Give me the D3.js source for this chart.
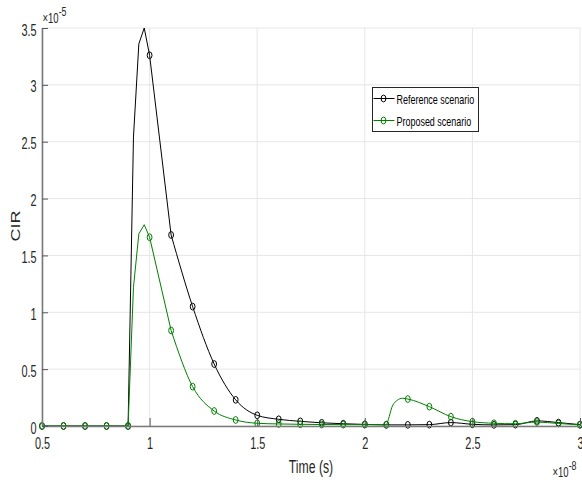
<!DOCTYPE html>
<html>
<head>
<meta charset="utf-8">
<script src="https://cdn.jsdelivr.net/npm/d3@7"></script>
<style>
  body { margin: 0; background: #fff; }
  svg { display: block; }
</style>
</head>
<body>
<svg></svg>
<script>
// values: time in 1e-8 s, CIR in 1e-5
const xTicks = [0.5, 1, 1.5, 2, 2.5, 3];
const yTicks = [0, 0.5, 1, 1.5, 2, 2.5, 3, 3.5];
const seriesNames = ["Reference scenario", "Proposed scenario"];
const seriesColors = ["#000000", "#008000"];

const timeRef = [0.5, 0.6, 0.7, 0.8, 0.9, 0.925, 0.95, 0.975, 1.0, 1.1, 1.2, 1.3, 1.4, 1.5, 1.6, 1.7, 1.8, 1.9,
  2.0, 2.1, 2.2, 2.3, 2.4, 2.5, 2.6, 2.7, 2.8, 2.9, 3.0];
const cirRef = [0, 0, 0, 0, 0, 2.54, 3.36, 3.5, 3.26, 1.68, 1.05, 0.545, 0.23, 0.094, 0.059, 0.041, 0.028, 0.02,
  0.014, 0.01, 0.01, 0.012, 0.03, 0.015, 0.01, 0.012, 0.045, 0.03, 0.012];

const timeProp = [0.5, 0.6, 0.7, 0.8, 0.9, 0.925, 0.95, 0.975, 1.0, 1.1, 1.2, 1.3, 1.4, 1.5, 1.6, 1.7, 1.8, 1.9,
  2.0, 2.1, 2.11, 2.125, 2.15, 2.175, 2.2, 2.3, 2.4, 2.5, 2.6, 2.7, 2.8, 2.9, 3.0];
const cirProp = [0, 0, 0, 0, 0, 1.22, 1.69, 1.77, 1.66, 0.84, 0.346, 0.132, 0.053, 0.024, 0.018, 0.015, 0.013, 0.012,
  0.012, 0.012, 0.06, 0.16, 0.225, 0.244, 0.237, 0.17, 0.082, 0.038, 0.024, 0.02, 0.035, 0.022, 0.01];

const width = 582, height = 483;
const sq = 0.68; // figure looks squeezed sideways
const font = "'Liberation Sans', Arial, sans-serif";

const svg = d3.select("svg").attr("width", width).attr("height", height);

const x = d3.scaleLinear().domain([0.5, 3]).range([42, 580]);
const y = d3.scaleLinear().domain([0, 3.5]).range([426, 28]);

// grid
const grid = svg.append("g").attr("stroke", "#e6e6e6").attr("stroke-width", 1);
grid.selectAll("line.v").data(xTicks).enter().append("line")
  .attr("x1", d => x(d)).attr("x2", d => x(d)).attr("y1", y(0)).attr("y2", y(3.5));
grid.selectAll("line.h").data(yTicks).enter().append("line")
  .attr("y1", d => y(d)).attr("y2", d => y(d)).attr("x1", x(0.5)).attr("x2", x(3));

// series
const series = [
  { name: seriesNames[0], color: seriesColors[0], pts: timeRef.map((t, i) => [t, cirRef[i]]) },
  { name: seriesNames[1], color: seriesColors[1], pts: timeProp.map((t, i) => [t, cirProp[i]]) }
];

// the rise/peak is drawn with straight segments, the decay is smooth
const lineSharp = d3.line().x(d => x(d[0])).y(d => y(d[1]));
const lineSmooth = d3.line().x(d => x(d[0])).y(d => y(d[1])).curve(d3.curveMonotoneX);
const onMarker = t => Math.abs(t * 10 - Math.round(t * 10)) < 1e-6;

series.forEach(s => {
  svg.append("path").datum(s.pts.filter(d => d[0] <= 1.1 + 1e-9))
    .attr("d", lineSharp).attr("fill", "none")
    .attr("stroke", s.color).attr("stroke-width", 1);
  svg.append("path").datum(s.pts.filter(d => d[0] >= 1.1 - 1e-9))
    .attr("d", lineSmooth).attr("fill", "none")
    .attr("stroke", s.color).attr("stroke-width", 1);
  svg.append("g").selectAll("ellipse").data(s.pts.filter(d => onMarker(d[0]))).enter()
    .append("ellipse")
    .attr("cx", d => x(d[0])).attr("cy", d => y(d[1]))
    .attr("rx", 2.4).attr("ry", 3.4)
    .attr("fill", "none").attr("stroke", s.color).attr("stroke-width", 1);
});

// axes
const xAxis = svg.append("g").attr("transform", `translate(0,${y(0)})`)
  .call(d3.axisBottom(x).tickValues(xTicks).tickSize(-8).tickSizeOuter(0).tickFormat(d3.format("")));
const yAxis = svg.append("g").attr("transform", `translate(${x(0.5)},0)`)
  .call(d3.axisLeft(y).tickValues(yTicks).tickSize(-6).tickSizeOuter(0).tickFormat(d3.format("")));

[xAxis, yAxis].forEach(a => {
  a.select(".domain").attr("stroke", "#7a7a7a").attr("stroke-width", 1.6);
  a.selectAll(".tick line").attr("stroke", "#555");
  a.selectAll(".tick text").attr("fill", "#262626")
    .style("font-family", font).style("font-size", "16px")
    .attr("transform", `scale(${sq},1)`);
});
xAxis.selectAll(".tick text").attr("y", 23).attr("dy", null);
yAxis.selectAll(".tick text").attr("x", -5.5 / sq).attr("dy", 7);

// axis labels
svg.append("text")
  .attr("transform", `translate(311,473) scale(${sq},1)`)
  .attr("text-anchor", "middle").attr("fill", "#262626")
  .style("font-family", font).style("font-size", "18px")
  .text("Time (s)");

svg.append("text")
  .attr("transform", `translate(20,226) scale(${sq},1) rotate(-90)`)
  .attr("text-anchor", "middle").attr("fill", "#262626")
  .style("font-family", font).style("font-size", "18px")
  .text("CIR");

// exponent labels
function expLabel(px, py, exp) {
  const t = svg.append("text")
    .attr("transform", `translate(${px},${py}) scale(${sq},1)`)
    .attr("fill", "#262626").style("font-family", font).style("font-size", "14px");
  t.append("tspan").text("\u00d710");
  t.append("tspan").attr("dy", -7).style("font-size", "13px").text(exp);
}
expLabel(42.5, 22.5, "-5");
expLabel(552.5, 476.5, "-8");

// legend
const lg = svg.append("g").attr("transform", "translate(372.5,87.5)");
lg.append("rect").attr("width", 106).attr("height", 44)
  .attr("fill", "#fff").attr("stroke", "#262626").attr("stroke-width", 1);
const items = lg.selectAll("g.item").data(series).enter().append("g")
  .attr("transform", (d, i) => `translate(0,${11 + i * 22})`);
items.append("line").attr("x1", 1).attr("x2", 22).attr("y1", 0).attr("y2", 0)
  .attr("stroke", d => d.color);
items.append("ellipse").attr("cx", 11).attr("cy", 0).attr("rx", 2.4).attr("ry", 3.4)
  .attr("fill", "none").attr("stroke", d => d.color);
items.append("text")
  .attr("transform", `translate(24,5) scale(${sq},1)`)
  .attr("fill", "#000").style("font-family", font).style("font-size", "13.2px")
  .text(d => d.name);
</script>
</body>
</html>
